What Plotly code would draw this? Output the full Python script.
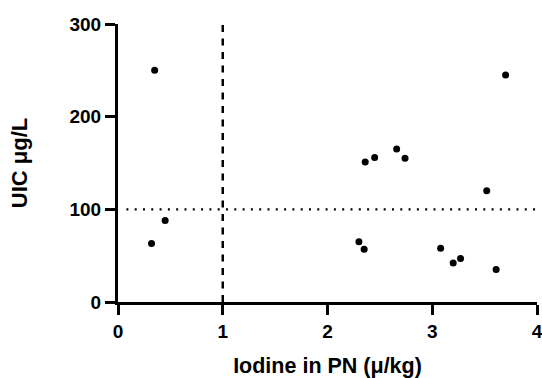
import plotly.graph_objects as go

iodine_pn = [0.35, 0.45, 0.32, 2.36, 2.45, 2.66, 2.74, 3.52, 3.70, 2.30, 2.35, 3.08, 3.20, 3.27, 3.61]
uic = [250, 88, 63, 151, 156, 165, 155, 120, 245, 65, 57, 58, 42, 47, 35]

x_ticks = [0, 1, 2, 3, 4]
y_ticks = [0, 100, 200, 300]
uic_threshold = 100
iodine_threshold = 1

FONT = "Arial, 'Liberation Sans', sans-serif"

fig = go.Figure()
fig.add_trace(go.Scatter(
    x=iodine_pn, y=uic, mode="markers",
    marker=dict(color="black", size=7),
    showlegend=False, cliponaxis=False,
))

# reference lines
fig.add_shape(type="line", xref="x", yref="y",
              x0=iodine_threshold, x1=iodine_threshold, y0=0, y1=300,
              line=dict(color="black", width=2.5, dash="7px,6.5px"))
fig.add_shape(type="line", xref="x", yref="y",
              x0=0.08, x1=4, y0=uic_threshold, y1=uic_threshold,
              line=dict(color="black", width=2.2, dash="2px,6.3px"))

fig.update_layout(
    width=542, height=378,
    margin=dict(l=118, r=5, t=24, b=76, autoexpand=False),
    plot_bgcolor="white", paper_bgcolor="white",
    font=dict(family=FONT, color="black", size=19, weight="bold"),
)
fig.update_xaxes(
    range=[0, 4], tickvals=x_ticks, ticktext=[str(v) for v in x_ticks],
    showline=True, linecolor="black", linewidth=3, automargin=False,
    ticks="outside", ticklen=10, tickwidth=3, tickcolor="black",
    showgrid=False, zeroline=False, ticklabeloverflow="allow",
    tickfont=dict(size=19, family=FONT, weight="bold"),
    title=dict(text="Iodine in PN (μ/kg)", font=dict(size=21.5, family=FONT, weight="bold"), standoff=22),
)
fig.update_yaxes(
    range=[0, 300], tickvals=y_ticks, ticktext=[str(v) for v in y_ticks],
    showline=True, linecolor="black", linewidth=3, automargin=False,
    ticks="outside", ticklen=10, tickwidth=3, tickcolor="black",
    showgrid=False, zeroline=False,
    tickfont=dict(size=19, family=FONT, weight="bold"),
    title=dict(text="UIC μg/L", font=dict(size=22, family=FONT, weight="bold"), standoff=36),
)

fig.write_html("out.html")
